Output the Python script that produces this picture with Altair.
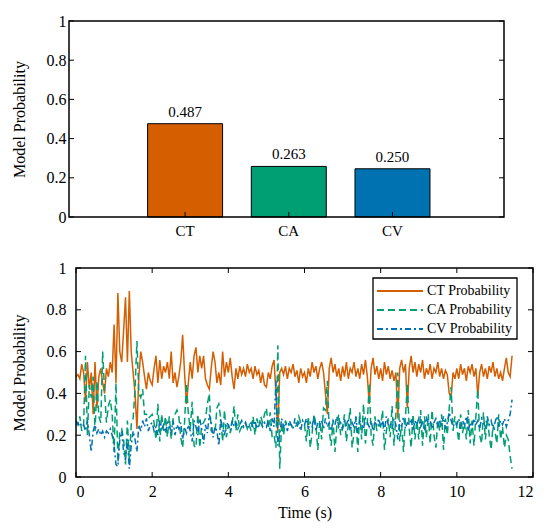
import altair as alt
import pandas as pd

FONT = "Liberation Serif"

# ---------------- data ----------------
categories = ["CT", "CA", "CV"]
bar_values = [0.476, 0.258, 0.246]          # bar heights as drawn
bar_labels = ["0.487", "0.263", "0.250"]    # printed labels
colors = ["#D55E00", "#009E73", "#0072B2"]
series_names = ["CT Probability", "CA Probability", "CV Probability"]
y_ticks = [0, 0.2, 0.4, 0.6, 0.8, 1]
x_ticks = [0, 2, 4, 6, 8, 10, 12]
sample_step = 0.05  # seconds between samples

# probabilities in percent, one row per second
ct_pct = [
    48, 49, 47, 54, 50, 36, 55, 42, 50, 30, 55, 33, 48, 52, 45, 40, 52, 48, 55, 50,
    73, 45, 88, 60, 55, 70, 86, 55, 89, 60, 50, 40, 23, 48, 60, 55, 48, 42, 50, 46,
    44, 52, 58, 45, 56, 47, 53, 50, 55, 47, 60, 45, 50, 43, 48, 55, 68, 50, 35, 45,
    55, 47, 58, 62, 50, 58, 52, 58, 47, 44, 42, 52, 60, 55, 45, 50, 44, 60, 48, 55,
    50, 57, 48, 42, 52, 47, 53, 49, 52, 48, 54, 50, 52, 47, 53, 49, 51, 45, 50, 44,
    43, 50, 47, 53, 56, 40, 22, 50, 52, 49, 53, 47, 52, 50, 54, 48, 51, 45, 52, 48,
    50, 45, 52, 48, 55, 50, 53, 47, 52, 55, 50, 40, 30, 52, 57, 50, 54, 48, 52, 46,
    53, 48, 55, 47, 52, 50, 55, 48, 52, 47, 54, 49, 56, 48, 35, 52, 57, 49, 53, 47,
    52, 46, 55, 49, 53, 47, 51, 46, 50, 28, 52, 56, 50, 54, 33, 52, 58, 50, 55, 48,
    54, 50, 56, 47, 52, 49, 54, 47, 52, 50, 55, 48, 52, 47, 51, 49, 40, 38, 50, 47,
    52, 47, 54, 49, 52, 46, 53, 50, 54, 48, 52, 39, 50, 54, 48, 52, 47, 53, 50, 55,
    48, 52, 47, 50, 46, 52, 57, 50, 48, 58,
]
ca_pct = [
    27, 25, 29, 22, 25, 58, 20, 44, 38, 48, 22, 46, 29, 26, 60, 41, 26, 34, 37, 30,
    12, 45, 7, 22, 23, 18, 6, 27, 7, 25, 28, 42, 65, 40, 38, 42, 30, 30, 28, 29,
    30, 26, 18, 35, 17, 30, 22, 29, 19, 29, 18, 28, 30, 32, 29, 19, 14, 26, 45, 30,
    23, 36, 15, 14, 30, 14, 25, 26, 28, 35, 40, 22, 21, 21, 33, 35, 28, 17, 32, 19,
    25, 21, 25, 34, 22, 30, 22, 24, 24, 26, 23, 25, 22, 29, 20, 28, 24, 29, 26, 30,
    33, 23, 31, 19, 20, 14, 63, 4, 26, 20, 27, 24, 25, 25, 23, 24, 25, 29, 26, 25,
    25, 17, 29, 14, 21, 30, 25, 13, 27, 18, 33, 32, 46, 22, 15, 27, 12, 25, 30, 20,
    24, 30, 17, 25, 33, 14, 21, 28, 12, 31, 18, 35, 16, 26, 45, 20, 15, 29, 22, 25,
    24, 32, 13, 22, 28, 19, 34, 15, 30, 50, 17, 25, 12, 28, 45, 23, 14, 30, 18, 27,
    18, 32, 15, 29, 19, 30, 16, 32, 20, 14, 27, 22, 30, 13, 28, 20, 33, 43, 22, 29,
    24, 17, 30, 21, 26, 18, 32, 16, 27, 15, 29, 42, 20, 16, 31, 18, 28, 20, 13, 25,
    22, 16, 30, 18, 24, 14, 20, 18, 10, 4,
]
cv_pct = [
    25, 26, 24, 26, 25, 22, 27, 20, 12, 22, 25, 21, 23, 20, 22, 19, 22, 21, 23, 20,
    15, 6, 5, 18, 22, 12, 8, 18, 4, 15, 22, 18, 12, 25, 22, 27, 24, 28, 22, 25,
    26, 22, 24, 20, 27, 23, 25, 21, 26, 24, 22, 27, 20, 25, 23, 26, 18, 24, 21, 25,
    22, 17, 27, 24, 20, 28, 23, 16, 25, 21, 30, 26, 19, 24, 22, 15, 28, 23, 20, 26,
    25, 22, 27, 24, 26, 23, 25, 27, 24, 26, 23, 25, 26, 24, 27, 23, 25, 26, 24, 26,
    24, 27, 22, 28, 24, 46, 15, 20, 28, 24, 26, 22, 27, 25, 23, 28, 24, 26, 22, 27,
    25, 28, 23, 26, 24, 29, 22, 26, 25, 27, 23, 28, 24, 26, 22, 27, 25, 29, 24, 26,
    23, 27, 25, 28, 22, 26, 24, 29, 21, 27, 25, 23, 28, 26, 24, 27, 22, 26, 25, 28,
    24, 27, 22, 29, 25, 26, 23, 28, 25, 18, 27, 24, 29, 23, 26, 25, 28, 22, 27, 25,
    28, 24, 26, 22, 29, 25, 27, 23, 26, 28, 24, 27, 25, 29, 23, 26, 31, 27, 24, 26,
    25, 28, 23, 27, 25, 29, 22, 26, 24, 28, 25, 27, 23, 28, 26, 24, 29, 25, 27, 23,
    26, 29, 24, 27, 25, 28, 24, 27, 30, 37,
]

# ---------------- layout / style ----------------
W1, H1 = 435, 196
W2, H2 = 464, 209
X0 = 7            # bottom panel frame starts this far right of the shared left edge
TICK = 5
FRAME_W = 1.5
dashes = [None, [7, 4], [6, 3, 2, 3]]
no_view = alt.ViewBackground(stroke="transparent", fill="white")

axis_common = dict(labelFont=FONT, titleFont=FONT, labelColor="black", titleColor="black",
                   titleFontWeight="normal", ticks=False, tickSize=0, domain=False, grid=False,
                   labelOverlap=False)


def frame_rect(x0, x1, h):
    return alt.Chart(pd.DataFrame({"k": [0]})).mark_rect(
        fill="transparent", stroke="black", strokeWidth=FRAME_W).encode(
        x=alt.value(x0), x2=alt.value(x1), y=alt.value(0), y2=alt.value(h))


# ---------------- top panel ----------------
bar_df = pd.DataFrame({"cat": categories, "h": bar_values, "label": bar_labels})
x_top = alt.X("cat:N", sort=categories,
              scale=alt.Scale(paddingInner=0.277, paddingOuter=0.736, align=0.515),
              axis=alt.Axis(title=None, labelAngle=0, labelPadding=6, labelFontSize=15, **axis_common))
y_top = alt.Y("h:Q", scale=alt.Scale(domain=[0, 1], nice=False), stack=None,
              axis=alt.Axis(values=y_ticks, format="~g", title="Model Probability",
                            titleFontSize=16, titlePadding=19, labelFontSize=16, labelPadding=3,
                            **axis_common))

bars = alt.Chart(bar_df).mark_bar(stroke="black", strokeWidth=1).encode(
    x=x_top, y=y_top,
    color=alt.Color("cat:N", scale=alt.Scale(domain=categories, range=colors), legend=None),
)
bar_text = alt.Chart(bar_df).mark_text(dy=-12, font=FONT, fontSize=15, color="black").encode(
    x=x_top, y=y_top, text="label:N"
)
cat_df = pd.DataFrame({"cat": categories})
top_xticks = alt.Chart(cat_df).mark_rule(color="black", strokeWidth=1).encode(
    x=alt.X("cat:N", sort=categories, bandPosition=0.5), y=alt.value(H1), y2=alt.value(H1 - TICK)
)
ytick_top_df = pd.DataFrame({"h": y_ticks})
top_yl = alt.Chart(ytick_top_df).mark_rule(color="black", strokeWidth=1).encode(
    y=y_top, x=alt.value(0), x2=alt.value(TICK))
top_yr = alt.Chart(ytick_top_df).mark_rule(color="black", strokeWidth=1).encode(
    y=y_top, x=alt.value(W1 - TICK), x2=alt.value(W1))

top = alt.layer(bars, bar_text, top_xticks, top_yl, top_yr, frame_rect(0, W1, H1)).properties(
    width=W1, height=H1, view=no_view)

# ---------------- bottom panel ----------------
x_bot = alt.X("t:Q", scale=alt.Scale(domain=[0, 12], nice=False, range=[X0, W2]),
              axis=alt.Axis(values=x_ticks, format="d", title="Time (s)", titleFontSize=16,
                            titlePadding=5, labelFontSize=16, labelPadding=6, **axis_common))
y_bot = alt.Y("p:Q", scale=alt.Scale(domain=[0, 1], nice=False),
              axis=alt.Axis(values=y_ticks, format="~g", title="Model Probability",
                            titleFontSize=16, titlePadding=19, labelFontSize=16, labelPadding=3,
                            **axis_common))

line_layers = []
for name, vals, col, dash in zip(series_names, [ct_pct, ca_pct, cv_pct], colors, dashes):
    df = pd.DataFrame({"t": [round(i * sample_step, 2) for i in range(len(vals))],
                       "p": [v / 100 for v in vals]})
    kw = dict(color=col, strokeWidth=1.5)
    if dash is not None:
        kw["strokeDash"] = dash
    line_layers.append(alt.Chart(df).mark_line(**kw).encode(x=x_bot, y=y_bot))

xt_df = pd.DataFrame({"t": x_ticks})
yt_df = pd.DataFrame({"p": y_ticks})
bt_x_bottom = alt.Chart(xt_df).mark_rule(color="black", strokeWidth=1).encode(
    x="t:Q", y=alt.value(H2), y2=alt.value(H2 - TICK))
bt_x_top = alt.Chart(xt_df).mark_rule(color="black", strokeWidth=1).encode(
    x="t:Q", y=alt.value(0), y2=alt.value(TICK))
bt_y_left = alt.Chart(yt_df).mark_rule(color="black", strokeWidth=1).encode(
    y="p:Q", x=alt.value(X0), x2=alt.value(X0 + TICK))
bt_y_right = alt.Chart(yt_df).mark_rule(color="black", strokeWidth=1).encode(
    y="p:Q", x=alt.value(W2 - TICK), x2=alt.value(W2))

# legend (drawn manually, top-right inside the plot)
LX0, LX1, LY0, LY1 = X0 + 297, X0 + 441, 10, 71
legend_box = alt.Chart(pd.DataFrame({"k": [0]})).mark_rect(
    fill="white", stroke="black", strokeWidth=1.3).encode(
    x=alt.value(LX0), x2=alt.value(LX1), y=alt.value(LY0), y2=alt.value(LY1))
legend_layers = [legend_box]
for i, (name, col, dash) in enumerate(zip(series_names, colors, dashes)):
    yy = 23 + 19 * i
    ldf = pd.DataFrame({"name": [name]})
    kw = dict(color=col, strokeWidth=2)
    if dash is not None:
        kw["strokeDash"] = dash
    legend_layers.append(alt.Chart(ldf).mark_rule(**kw).encode(
        x=alt.value(X0 + 301), x2=alt.value(X0 + 347), y=alt.value(yy)))
    legend_layers.append(alt.Chart(ldf).mark_text(
        align="left", baseline="middle", font=FONT, fontSize=14, color="black").encode(
        x=alt.value(X0 + 351), y=alt.value(yy), text="name:N"))

bottom = alt.layer(*line_layers, bt_x_bottom, bt_x_top, bt_y_left, bt_y_right,
                   frame_rect(X0, W2, H2), *legend_layers).properties(
    width=W2, height=H2, view=no_view)

chart = alt.vconcat(top, bottom, spacing=20).properties(
    padding={"left": 2, "top": 4, "right": 5, "bottom": 5}
).configure(background="white")

chart.save("out.html", embed_options={"renderer": "svg", "actions": False})
